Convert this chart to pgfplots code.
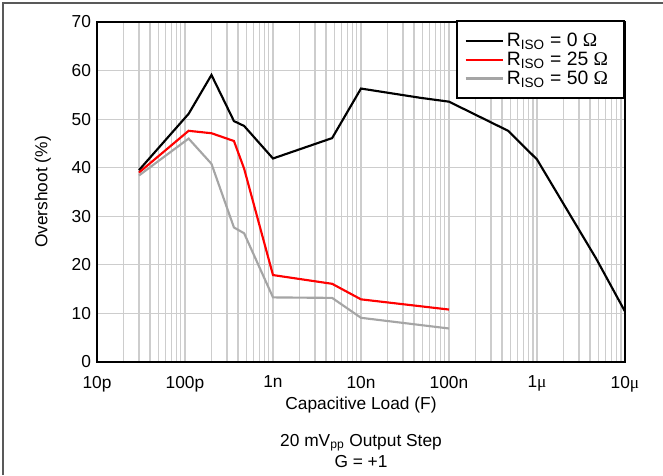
\documentclass[border=0pt]{standalone}
\usepackage{fontspec}
\setmainfont{Liberation Sans}
\newfontfamily\symfont{Liberation Serif}
\usepackage{pgfplots}
\pgfplotsset{compat=1.18}
\definecolor{gridgray}{RGB}{205,205,205}
\definecolor{lgray}{RGB}{165,165,165}
\begin{document}
\begin{tikzpicture}
\path[use as bounding box] (-72.75pt,-84.75pt) rectangle (424.5pt,271.5pt);
\draw[line width=0.8pt, black!65] (-70.5pt,-84.75pt) -- (-70.5pt,269.25pt) -- (424.5pt,269.25pt);
\begin{axis}[
  at={(0pt,0pt)}, anchor=south west,
  scale only axis, width=396pt, height=255pt,
  xmode=log, xmin=1e-11, xmax=1e-5, ymin=0, ymax=70,
  xtick={1e-11,1e-10,1e-9,1e-8,1e-7,1e-6,1e-5},
  xticklabels={10p,100p,1n,10n,100n,1{\symfont μ},10{\symfont μ}},
  minor xtick={2e-11,3e-11,4e-11,5e-11,6e-11,7e-11,8e-11,9e-11,
    2e-10,3e-10,4e-10,5e-10,6e-10,7e-10,8e-10,9e-10,
    2e-9,3e-9,4e-9,5e-9,6e-9,7e-9,8e-9,9e-9,
    2e-8,3e-8,4e-8,5e-8,6e-8,7e-8,8e-8,9e-8,
    2e-7,3e-7,4e-7,5e-7,6e-7,7e-7,8e-7,9e-7,
    2e-6,3e-6,4e-6,5e-6,6e-6,7e-6,8e-6,9e-6},
  ytick={0,10,...,70},
  /pgf/number format/assume math mode=true,
  grid=both,
  major grid style={gridgray, line width=0.8pt},
  minor grid style={gridgray, line width=0.8pt},
  major tick length=0pt, minor tick length=0pt,
  axis line style={line width=1.6pt},
  tick label style={font=\fontsize{13}{13}\selectfont},
  xticklabel style={yshift=-7pt},
  yticklabel style={xshift=-1pt},
  label style={font=\fontsize{13}{13}\selectfont},
  xlabel={Capacitive Load (F)},
  xlabel style={at={(rel axis cs:0.5,0)}, anchor=center, yshift=-32.25pt},
  ylabel={Overshoot (\%)},
  ylabel style={at={(rel axis cs:0,0.5)}, anchor=center, yshift=40.5pt},
  legend cell align=left,
  legend style={at={(rel axis cs:1,1)}, anchor=north east, draw=black, line width=1.6pt,
    font=\fontsize{14.5}{14.5}\selectfont, inner xsep=6pt, inner ysep=7pt, row sep=-1.5pt,
    yshift=1.5pt},
  legend image code/.code={\draw[#1, line width=1.6pt] (0pt,0pt) -- (28pt,0pt);},
]
\addplot[black, line width=1.6pt] coordinates {
 (3e-11,39.5) (1.1e-10,51.1) (2e-10,59.1) (3.6e-10,49.6) (4.7e-10,48.6)
 (1e-9,41.9) (4.7e-9,46.1) (1e-8,56.3) (4.7e-8,54.4) (1e-7,53.6) (4.7e-7,47.6)
 (1e-6,41.7) (4.7e-6,21.3) (1e-5,10.4)};
\addlegendentry{R\textsubscript{ISO} = 0 {\symfont Ω}\hspace*{12pt}}
\addplot[red, line width=1.6pt] coordinates {
 (3e-11,39.0) (1.1e-10,47.6) (2e-10,47.1) (3.6e-10,45.5) (4.7e-10,39.8)
 (1e-9,17.9) (4.7e-9,16.1) (1e-8,12.9) (1e-7,10.8)};
\addlegendentry{R\textsubscript{ISO} = 25 {\symfont Ω}}
\addplot[lgray, line width=1.6pt] coordinates {
 (3e-11,38.4) (1.1e-10,46.0) (2e-10,40.8) (3.6e-10,27.7) (4.7e-10,26.5)
 (1e-9,13.3) (4.7e-9,13.2) (1e-8,9.1) (1e-7,6.9)};
\addlegendentry{R\textsubscript{ISO} = 50 {\symfont Ω}}
\end{axis}
\node[font=\fontsize{13}{13}\selectfont] at (198pt,-60.75pt) {20 mV\textsubscript{pp} Output Step};
\node[font=\fontsize{13}{13}\selectfont] at (198pt,-75pt) {G = +1};
\end{tikzpicture}
\end{document}
